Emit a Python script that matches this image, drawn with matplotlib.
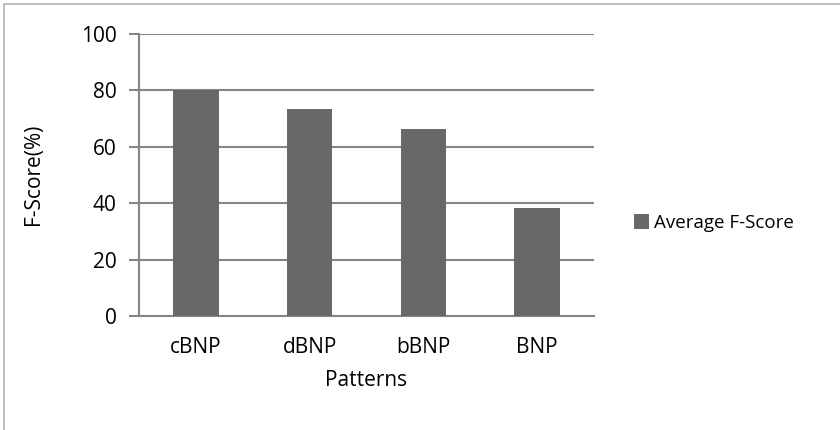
import matplotlib
matplotlib.use("Agg")
import matplotlib.pyplot as plt
from matplotlib.patches import Rectangle

categories = ["cBNP", "dBNP", "bBNP", "BNP"]
values = [80.0, 73.3, 66.2, 38.3]
series_name = "Average F-Score"
y_ticks = [0, 20, 40, 60, 80, 100]

plt.rcParams['font.family'] = ['Open Sans', 'DejaVu Sans']

W, H = 840, 430
fig = plt.figure(figsize=(W / 100, H / 100), dpi=100)
ax = fig.add_axes([139 / W, 1 - 316 / H, (594 - 139) / W, (316 - 33.5) / H])

grid_c = "#868686"
bar_c = "#686868"

x = list(range(len(categories)))
ax.bar(x, values, width=0.4, color=bar_c, zorder=3, label=series_name)
ax.set_xlim(-0.5, len(categories) - 0.5)
ax.set_ylim(0, 100)
ax.set_yticks(y_ticks)
ax.set_xticks(x)
ax.set_xticklabels(categories, fontsize=15)
ax.tick_params(axis='y', labelsize=15, length=7, width=1.5, color=grid_c, direction='out', pad=9)
ax.tick_params(axis='x', length=0, pad=15)
ax.yaxis.grid(True, color=grid_c, linewidth=1.5, zorder=0)
for s in ['top', 'right']:
    ax.spines[s].set_visible(False)
ax.spines['left'].set_color(grid_c)
ax.spines['left'].set_linewidth(1.5)
ax.spines['bottom'].set_color(grid_c)
ax.spines['bottom'].set_linewidth(1.5)

fig.text(366 / W, 1 - 380 / H, "Patterns", fontsize=15, ha='center', va='center')
fig.text(34 / W, 1 - 174 / H, "F-Score(%)", fontsize=15, ha='center', va='center', rotation=90)

leg = fig.legend(loc='center left', bbox_to_anchor=(617 / W, 1 - 223 / H), frameon=False,
                 fontsize=13.5, handlelength=0.8, handleheight=0.8, handletextpad=0.3)

fig.patches.append(Rectangle((4 / W, -0.1), 1.1, 1 - 4 / H + 0.1, transform=fig.transFigure,
                             fill=False, edgecolor="#b0b0b0", linewidth=1.2))

fig.savefig("out.png", dpi=100, facecolor="white")
